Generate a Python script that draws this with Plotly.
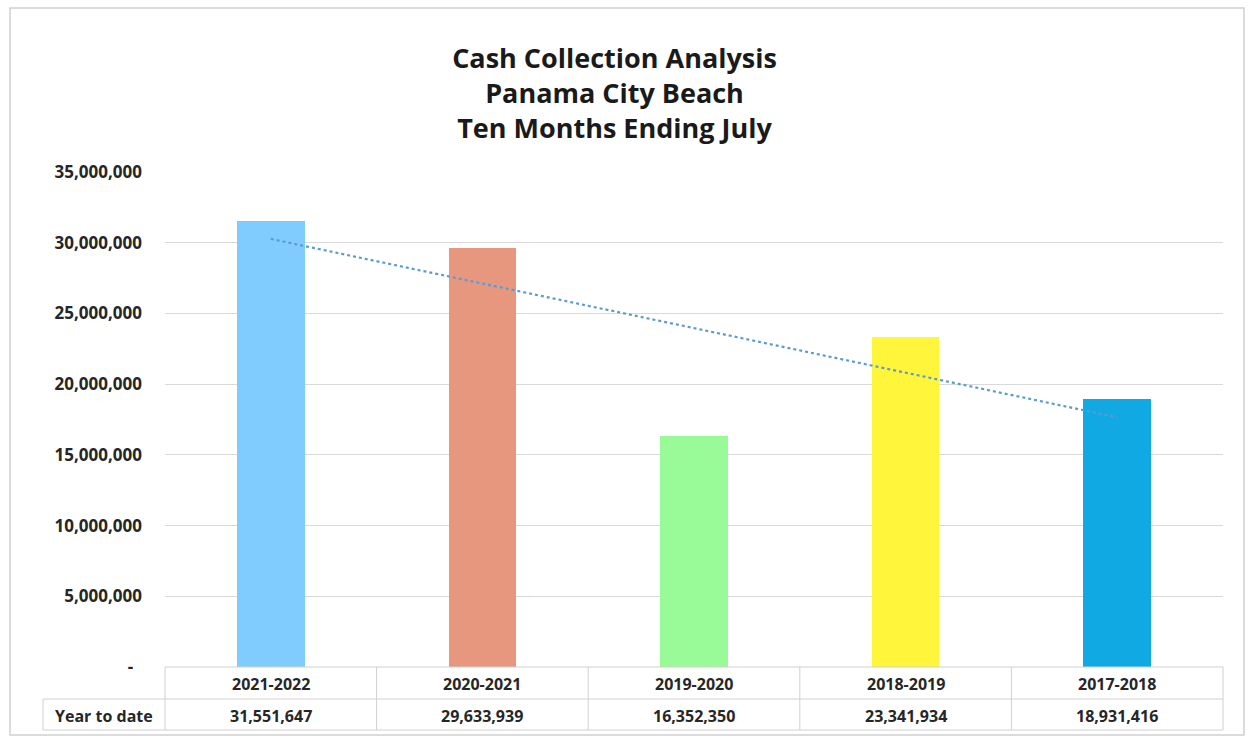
import numpy as np
import plotly.graph_objects as go

# Fiscal-year buckets and ten-month cash collections
periods = ["2021-2022", "2020-2021", "2019-2020", "2018-2019", "2017-2018"]
collections = [31551647, 29633939, 16352350, 23341934, 18931416]
bar_colors = ["#80CCFF", "#E8977F", "#98FB98", "#FFF53B", "#10A9E4"]
row_label = "Year to date"
y_ticks = [0, 5000000, 10000000, 15000000, 20000000, 25000000, 30000000, 35000000]
y_tick_text = ["-\u00a0\u00a0", "5,000,000", "10,000,000", "15,000,000", "20,000,000",
               "25,000,000", "30,000,000", "35,000,000"]
title_lines = ["Cash Collection Analysis", "Panama City Beach", "Ten Months Ending July"]

W, H = 1249, 738
PLOT_L, PLOT_R, PLOT_T, PLOT_B = 165, 1223, 172, 667


def px(xp):
    """pixel x -> paper x"""
    return (xp - PLOT_L) / (PLOT_R - PLOT_L)


def py(yp):
    """pixel y -> paper y"""
    return (PLOT_B - yp) / (PLOT_B - PLOT_T)


FONT = "Open Sans"
TXT = "#262626"
GRID = "#D9D9D9"
BORDER = "#D0D0D0"

fig = go.Figure()

fig.add_trace(go.Bar(
    x=list(range(len(periods))), y=collections,
    marker=dict(color=bar_colors, line=dict(width=0)),
    width=0.32, showlegend=False, hoverinfo="x+y",
))

# Linear trendline fitted across the periods
idx = np.arange(len(collections))
slope, intercept = np.polyfit(idx, collections, 1)
fig.add_trace(go.Scatter(
    x=idx, y=slope * idx + intercept, mode="lines",
    line=dict(color="#5B9BD5", width=2.2, dash="dot"),
    showlegend=False, hoverinfo="skip",
))

shapes = []
# Outer chart border
shapes.append(dict(type="rect", xref="paper", yref="paper",
                   x0=px(10), x1=px(1244), y0=py(735), y1=py(8),
                   line=dict(color=BORDER, width=1.5), fillcolor="rgba(0,0,0,0)",
                   layer="below"))


def hline(x0, x1, y):
    shapes.append(dict(type="line", xref="paper", yref="paper",
                       x0=px(x0), x1=px(x1), y0=py(y), y1=py(y),
                       line=dict(color=BORDER, width=1)))


def vline(x, y0, y1):
    shapes.append(dict(type="line", xref="paper", yref="paper",
                       x0=px(x), x1=px(x), y0=py(y0), y1=py(y1),
                       line=dict(color=BORDER, width=1)))


# Data table grid below the plot
ROW1, ROW2, ROW3 = 667, 699, 730
TABLE_L = 43
hline(PLOT_L, PLOT_R, ROW1)
hline(TABLE_L, PLOT_R, ROW2)
hline(TABLE_L, PLOT_R, ROW3)
vline(TABLE_L, ROW2, ROW3)
n = len(periods)
for k in range(n + 1):
    xb = PLOT_L + (PLOT_R - PLOT_L) * k / n
    vline(xb, ROW1, ROW3)

cell_font = dict(family=FONT, size=16, color=TXT)
annotations = []
for i, (p, v) in enumerate(zip(periods, collections)):
    annotations.append(dict(x=i, xref="x", y=py((ROW1 + ROW2) / 2 + 1), yref="paper",
                            xanchor="center", yanchor="middle",
                            text=f"<b>{p}</b>", showarrow=False, font=cell_font))
    annotations.append(dict(x=i, xref="x", y=py((ROW2 + ROW3) / 2 + 1), yref="paper",
                            xanchor="center", yanchor="middle",
                            text=f"<b>{v:,}</b>", showarrow=False, font=cell_font))
annotations.append(dict(x=px((TABLE_L + PLOT_L) / 2), xref="paper",
                        y=py((ROW2 + ROW3) / 2 + 1), yref="paper",
                        xanchor="center", yanchor="middle",
                        text=f"<b>{row_label}</b>", showarrow=False, font=cell_font))

fig.update_layout(
    width=W, height=H,
    margin=dict(l=PLOT_L, r=W - PLOT_R, t=PLOT_T, b=H - PLOT_B),
    paper_bgcolor="white", plot_bgcolor="white",
    title=dict(text="<b>" + "<br>".join(title_lines) + "</b>",
               x=0.492, xanchor="center", y=1 - 68 / H, yanchor="top",
               font=dict(family=FONT, size=27, color="#1a1a1a")),
    xaxis=dict(range=[-0.5, n - 0.5], showticklabels=False, showgrid=False,
               zeroline=False, showline=False, ticks="", fixedrange=True),
    yaxis=dict(range=[0, 35000000], tickvals=y_ticks, ticktext=y_tick_text,
               showgrid=True, gridcolor=GRID, gridwidth=1.3, zeroline=False,
               showline=False, ticks="", ticklabelstandoff=22,
               tickfont=dict(family=FONT, size=17, color=TXT, weight="bold")),
    shapes=shapes, annotations=annotations,
    bargap=0,
)

fig.write_html("out.html")
